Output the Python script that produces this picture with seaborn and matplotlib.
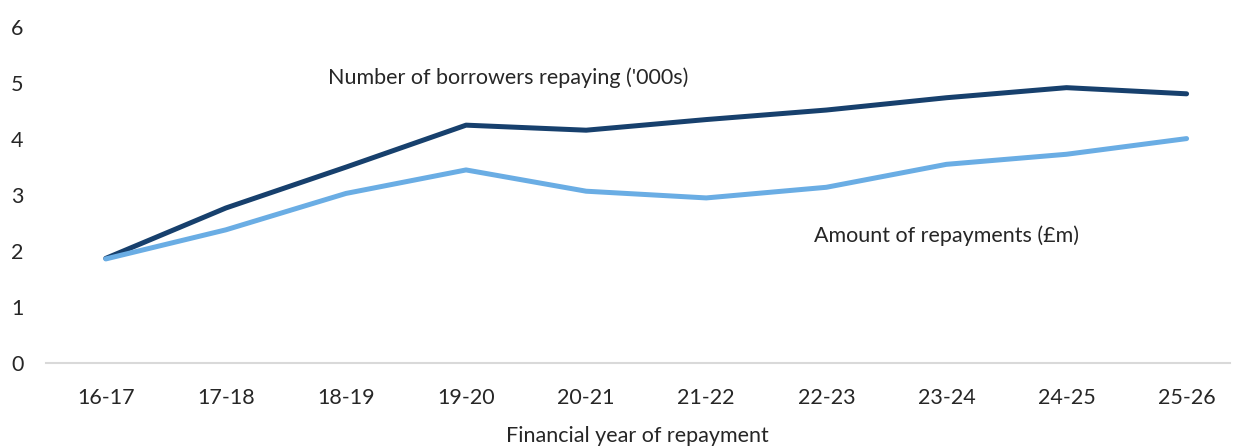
import matplotlib
matplotlib.use("Agg")
import matplotlib.pyplot as plt
import pandas as pd
import seaborn as sns

YEARS = ["16-17", "17-18", "18-19", "19-20", "20-21", "21-22", "22-23", "23-24", "24-25", "25-26"]
BORROWERS = [1.87, 2.77, 3.50, 4.25, 4.16, 4.35, 4.52, 4.74, 4.92, 4.81]
REPAYMENTS = [1.86, 2.38, 3.03, 3.45, 3.07, 2.95, 3.14, 3.55, 3.73, 4.01]

BORROWERS_LABEL = "Number of borrowers repaying ('000s)"
REPAYMENTS_LABEL = "Amount of repayments (£m)"

FONT_SIZE = 15.5
TEXT_COLOUR = "#262626"

sns.set_style("white")
plt.rcParams["font.family"] = ["Lato", "DejaVu Sans"]

df = pd.DataFrame({
    "year": YEARS * 2,
    "value": BORROWERS + REPAYMENTS,
    "series": [BORROWERS_LABEL] * len(YEARS) + [REPAYMENTS_LABEL] * len(YEARS),
})

fig = plt.figure(figsize=(12.36, 4.46), dpi=100)
ax = fig.add_axes([0.037, 0.186, 0.958, 0.753])

sns.lineplot(data=df, x="year", y="value", hue="series",
             palette={BORROWERS_LABEL: "#17406d", REPAYMENTS_LABEL: "#6aade4"},
             linewidth=3.6, legend=False, ax=ax, sort=False)
for line in ax.lines:
    line.set_solid_capstyle("round")
    line.set_solid_joinstyle("round")

ax.set_ylim(0, 6)
ax.set_xlim(-0.5, 9.36)
ax.set_yticks(range(0, 7))
ax.tick_params(axis="both", length=0, labelsize=FONT_SIZE, colors=TEXT_COLOUR)
ax.tick_params(axis="x", pad=18)
for lbl in ax.get_yticklabels():
    lbl.set_horizontalalignment("left")
ax.tick_params(axis="y", pad=25)

for side in ["top", "right", "left"]:
    ax.spines[side].set_visible(False)
ax.spines["bottom"].set_color("#d9d9d9")
ax.spines["bottom"].set_linewidth(1.5)

ax.set_ylabel("")
ax.set_xlabel("Financial year of repayment", fontsize=FONT_SIZE, color=TEXT_COLOUR, labelpad=13)

ax.text(1.85, 5.1, BORROWERS_LABEL, fontsize=FONT_SIZE, color=TEXT_COLOUR, va="center")
ax.text(5.9, 2.28, REPAYMENTS_LABEL, fontsize=FONT_SIZE, color=TEXT_COLOUR, va="center")

fig.savefig("out.png", dpi=100)
